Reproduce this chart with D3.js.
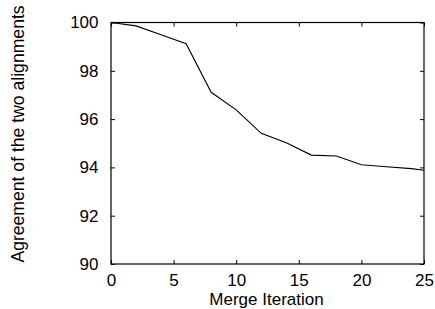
<!DOCTYPE html>
<html>
<head>
<meta charset="utf-8">
<script src="https://cdn.jsdelivr.net/npm/d3@7"></script>
<style>
	body { margin: 0; background: #fff; }
	text { font-family: 'Liberation Sans', Arial, sans-serif; fill: #000; }
</style>
</head>
<body>
<script>
// merge iterations and agreement (%)
const iterations = [0, 2, 4, 6, 8, 10, 12, 14, 16, 18, 20, 22, 24, 25];
const agreement = [100, 99.86, 99.49, 99.12, 97.11, 96.38, 95.41, 95.02, 94.51, 94.47, 94.11, 94.03, 93.95, 93.88];
const xTicks = [0, 5, 10, 15, 20, 25];
const yTicks = [90, 92, 94, 96, 98, 100];

const width = 435;
const height = 309;
const margin = { top: 22.5, right: 11, bottom: 45, left: 111 };
const TICK_LEN = 4;
const TICK_FONT = 17;

const svg = d3.select('body')
	.append('svg')
	.attr('width', width)
	.attr('height', height);

const x = d3.scaleLinear().domain([0, 25]).range([margin.left, width - margin.right]);
const y = d3.scaleLinear().domain([90, 100]).range([height - margin.bottom, margin.top]);

const data = iterations.map((it, i) => ({ it, v: agreement[i] }));

// axes, ticks pointing inwards, mirrored on top/right
svg.append('g')
	.attr('transform', `translate(0,${y(90)})`)
	.call(d3.axisBottom(x).tickValues(xTicks).tickSizeInner(-TICK_LEN).tickSizeOuter(0).tickPadding(10))
	.call(g => g.selectAll('text').attr('font-size', TICK_FONT));

svg.append('g')
	.attr('transform', `translate(0,${y(100)})`)
	.call(d3.axisTop(x).tickValues(xTicks).tickSizeInner(-TICK_LEN).tickSizeOuter(0).tickFormat(''));

svg.append('g')
	.attr('transform', `translate(${x(0)},0)`)
	.call(d3.axisLeft(y).tickValues(yTicks).tickSizeInner(-TICK_LEN).tickSizeOuter(0).tickPadding(12.5))
	.call(g => g.selectAll('text').attr('font-size', TICK_FONT));

svg.append('g')
	.attr('transform', `translate(${x(25)},0)`)
	.call(d3.axisRight(y).tickValues(yTicks).tickSizeInner(-TICK_LEN).tickSizeOuter(0).tickFormat(''));

svg.selectAll('.domain').remove();
svg.selectAll('.tick line').attr('stroke', '#000');

// frame
svg.append('rect')
	.attr('x', x(0))
	.attr('y', y(100))
	.attr('width', x(25) - x(0))
	.attr('height', y(90) - y(100))
	.attr('fill', 'none')
	.attr('stroke', '#000')
	.attr('stroke-width', 1.2);

// data line
svg.append('path')
	.datum(data)
	.attr('fill', 'none')
	.attr('stroke', '#000')
	.attr('stroke-width', 1.1)
	.attr('d', d3.line().x(d => x(d.it)).y(d => y(d.v)));

// axis titles
svg.append('text')
	.attr('x', (x(0) + x(25)) / 2 - 1)
	.attr('y', 305.3)
	.attr('text-anchor', 'middle')
	.attr('font-size', 17)
	.text('Merge Iteration');

svg.append('text')
	.attr('transform', `translate(23.5,134) rotate(-90)`)
	.attr('text-anchor', 'middle')
	.attr('font-size', 17.6)
	.text('Agreement of the two alignments');
</script>
</body>
</html>
